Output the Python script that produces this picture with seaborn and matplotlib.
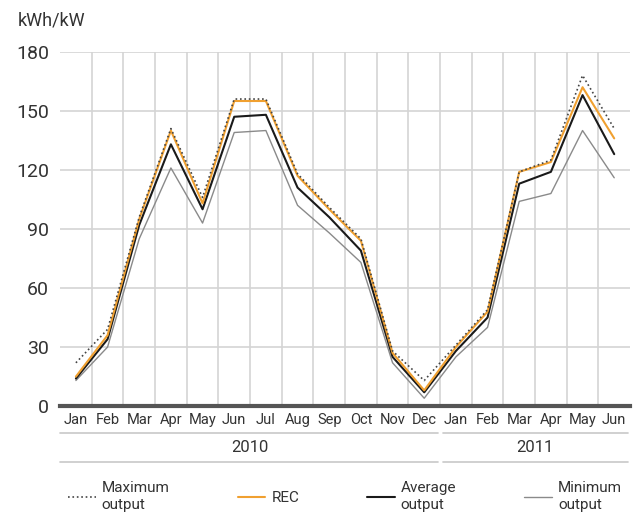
import matplotlib
matplotlib.use("Agg")
import matplotlib.pyplot as plt
import seaborn as sns
import pandas as pd
import numpy as np

months = ["Jan", "Feb", "Mar", "Apr", "May", "Jun", "Jul", "Aug", "Sep",
          "Oct", "Nov", "Dec", "Jan", "Feb", "Mar", "Apr", "May", "Jun"]
years = ["2010", "2011"]
months_per_year = [12, 6]

max_output = [22, 39, 96, 141, 106, 156, 156, 118, 101, 85, 28, 13,
              31, 49, 119, 125, 168, 141]
rec = [15, 36, 95, 140, 103, 155, 155, 117, 100, 84, 27, 8,
       30, 48, 119, 124, 162, 136]
avg_output = [14, 34, 92, 133, 100, 147, 148, 111, 96, 79, 25, 7,
              28, 45, 113, 119, 158, 128]
min_output = [13, 30, 85, 121, 93, 139, 140, 102, 88, 73, 22, 4,
              25, 40, 104, 108, 140, 116]

sns.set_style("white")
plt.rcParams["font.family"] = ["Roboto", "DejaVu Sans"]

df = pd.DataFrame({
    "x": np.arange(len(months)),
    "Maximum\noutput": max_output,
    "REC": rec,
    "Average\noutput": avg_output,
    "Minimum\noutput": min_output,
})

fig = plt.figure(figsize=(6.39, 5.18), dpi=100)
ax = fig.add_axes([0.094, 0.216, 0.892, 0.684])

text_col = "#333333"
grid_col = "#d4d4d4"

# grid
for v in range(30, 181, 30):
    ax.axhline(v, color=grid_col, lw=1.2, zorder=0)
for i in range(len(months) - 1):
    ax.axvline(i + 0.5, color=grid_col, lw=1.2, zorder=0)

styles = [
    ("Minimum\noutput", "#8a8a8a", "-", 1.0),
    ("Average\noutput", "#1a1a1a", "-", 1.5),
    ("REC", "#f0a030", "-", 1.5),
    ("Maximum\noutput", "#444444", ":", 1.2),
]
for col, color, ls, lw in styles:
    sns.lineplot(data=df, x="x", y=col, color=color, linestyle=ls, lw=lw,
                 ax=ax, label=col, zorder=3)

ax.set_xlim(-0.5, len(months) - 0.5)
ax.set_ylim(0, 180)
ax.set_yticks(range(0, 181, 30))
ax.set_xticks(np.arange(len(months)))
ax.set_xticklabels(months)
ax.tick_params(axis="y", length=0, labelsize=14, colors=text_col, pad=8)
ax.tick_params(axis="x", length=0, labelsize=10.5, colors=text_col, pad=5)
ax.set_xlabel("")
ax.set_ylabel("")
for s in ["top", "right", "left"]:
    ax.spines[s].set_visible(False)
ax.spines["bottom"].set_color("#555555")
ax.spines["bottom"].set_linewidth(3)
ax.spines["bottom"].set_zorder(4)

# year grouping
tr = ax.get_xaxis_transform()
start = -0.5
for yr, n in zip(years, months_per_year):
    end = start + n
    for yy in (-0.076, -0.158):
        ax.plot([start + 0.08, end - 0.08] if start > 0 else [start, end - 0.08],
                [yy, yy], transform=tr, color="#c8c8c8", lw=1.2, clip_on=False)
    ax.text((start + end) / 2, -0.117, yr, transform=tr, ha="center",
            va="center", fontsize=12, color=text_col)
    start = end

fig.text(0.027, 0.96, "kWh/kW", fontsize=13, color=text_col, va="center")

handles, labels = ax.get_legend_handles_labels()
order = [3, 2, 1, 0]
ax.legend([handles[i] for i in order], [labels[i] for i in order],
          ncol=4, loc="center", bbox_to_anchor=(-0.01, -0.29, 1.02, 0.07),
          mode="expand", frameon=False, handlelength=1.8, handletextpad=0.4,
          fontsize=11, labelcolor=text_col, labelspacing=0.2)

fig.savefig("out.png", dpi=100)
